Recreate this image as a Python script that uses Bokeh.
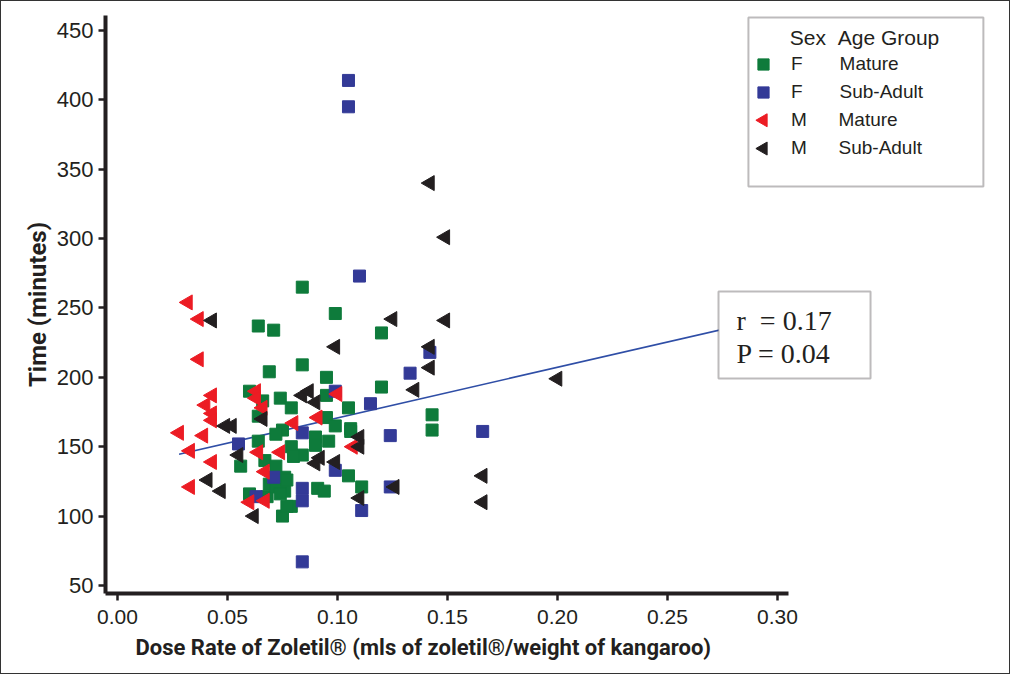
from bokeh.plotting import figure
from bokeh.models import (Legend, LegendItem, BoxAnnotation, Label, Range1d, Title,
                          SingleIntervalTicker, NumeralTickFormatter)
from bokeh.embed import file_html
from bokeh.resources import INLINE

# F / Mature
fm_dose = [0.084, 0.099, 0.064, 0.071, 0.120, 0.069, 0.084, 0.095, 0.120, 0.060,
           0.066, 0.074, 0.095, 0.079, 0.105, 0.064, 0.095, 0.106, 0.075, 0.072,
           0.064, 0.090, 0.096, 0.106, 0.079, 0.084, 0.090, 0.056, 0.067, 0.105,
           0.111, 0.091, 0.094, 0.076, 0.076, 0.075, 0.079, 0.060, 0.069, 0.068,
           0.072, 0.143, 0.143, 0.080, 0.099, 0.072, 0.077, 0.074, 0.077]
fm_time = [265, 246, 237, 234, 232, 204, 209, 200, 193, 190,
           183, 185, 187, 178, 178, 172, 171, 163, 162, 159,
           154, 157, 154, 161, 150, 144, 151, 136, 140, 129,
           121, 120, 118, 128, 118, 100, 107, 116, 123, 114,
           121, 173, 162, 143, 165, 136, 126, 116, 107]

# F / Sub-Adult
fs_dose = [0.105, 0.105, 0.110, 0.142, 0.133, 0.115, 0.099, 0.084, 0.055, 0.124,
           0.166, 0.099, 0.071, 0.063, 0.084, 0.084, 0.111, 0.124, 0.084]
fs_time = [414, 395, 273, 218, 203, 181, 190, 160, 152, 158,
           161, 133, 128, 114, 120, 111, 104, 121, 67]

# M / Mature
mm_dose = [0.032, 0.037, 0.037, 0.063, 0.063, 0.043, 0.040, 0.043, 0.066, 0.043,
           0.100, 0.091, 0.080, 0.028, 0.039, 0.033, 0.064, 0.074, 0.043, 0.067,
           0.033, 0.060, 0.067, 0.107]
mm_time = [254, 242, 213, 190, 185, 187, 180, 174, 178, 169,
           188, 171, 167, 160, 158, 147, 146, 146, 139, 132,
           121, 110, 111, 150]

# M / Sub-Adult
ms_dose = [0.142, 0.149, 0.043, 0.125, 0.149, 0.099, 0.142, 0.142, 0.135, 0.200,
           0.084, 0.087, 0.090, 0.066, 0.049, 0.052, 0.055, 0.110, 0.110, 0.092,
           0.099, 0.090, 0.110, 0.126, 0.166, 0.166, 0.041, 0.047, 0.062]
ms_time = [340, 301, 241, 242, 241, 222, 222, 207, 191, 199,
           187, 190, 182, 170, 165, 165, 144, 157, 150, 142,
           139, 138, 113, 121, 129, 110, 126, 118, 100]

# fitted line
fit_dose = [0.028, 0.30]
fit_time = [144.5, 243.7]

GREEN = "#0e7b3b"
BLUE = "#333a97"
RED = "#ec1c24"
BLACK = "#231f20"
NB = "\u00a0"

p = figure(width=1010, height=674, title=None,
           x_range=Range1d(-0.00545, 0.3982), y_range=Range1d(44.2, 460.8),
           output_backend="svg", toolbar_location=None,
           min_border_left=104, min_border_right=18, min_border_top=14, min_border_bottom=82)
p.grid.visible = False
p.outline_line_color = None
p.styles = {"border": "1.5px solid #333333"}

p.line(fit_dose, fit_time, line_color="#2f4ea6", line_width=1.6)
r_fm = p.scatter(fm_dose, fm_time, marker="square", size=12, color=GREEN)
r_fs = p.scatter(fs_dose, fs_time, marker="square", size=12, color=BLUE)
r_mm = p.scatter(mm_dose, mm_time, marker="triangle", angle=90, angle_units="deg",
                 size=15, color=RED)
r_ms = p.scatter(ms_dose, ms_time, marker="triangle", angle=90, angle_units="deg",
                 size=15, color=BLACK)

xa = p.xaxis[0]
ya = p.yaxis[0]
xa.bounds = (-0.00545, 0.305)
xa.ticker = SingleIntervalTicker(interval=0.05, num_minor_ticks=0)
xa.formatter = NumeralTickFormatter(format="0.00")
ya.ticker = SingleIntervalTicker(interval=50, num_minor_ticks=0)
ya.axis_label = "Time (minutes)"
for ax in (xa, ya):
    ax.axis_line_width = 4
    ax.axis_line_color = BLACK
    ax.major_tick_line_width = 2.5
    ax.major_tick_line_color = BLACK
    ax.major_tick_out = 7
    ax.major_tick_in = 0
    ax.minor_tick_line_color = None
    ax.major_label_text_font = "Liberation Sans"
    ax.major_label_text_color = BLACK
xa.major_label_text_font_size = "21px"
ya.major_label_text_font_size = "22px"
xa.major_label_standoff = 9
ya.major_label_standoff = 5
ya.axis_label_text_font = "Roboto"
ya.axis_label_text_font_style = "bold"
ya.axis_label_text_color = BLACK
ya.axis_label_text_font_size = "24px"
ya.axis_label_standoff = 2

# x axis title, placed under the bounded axis rather than centred on the whole frame
p.add_layout(Title(text="Dose Rate of Zoletil® (mls of zoletil®/weight of kangaroo)",
                   align="left", offset=30, standoff=12, text_font="Roboto",
                   text_font_style="bold", text_font_size="22px", text_color=BLACK), "below")

# stats box
p.add_layout(BoxAnnotation(left=0.2732, right=0.3423, top=261.9, bottom=199.2,
                           fill_color="white", fill_alpha=1,
                           line_color=BLACK, line_width=2))
for ty, txt in ((241.0, "r" + NB + NB + "= 0.17"), (217.2, "P = 0.04")):
    p.add_layout(Label(x=0.2814, y=ty, text=txt, text_font="Liberation Serif",
                       text_font_size="28px", text_baseline="middle", text_color=BLACK))

# legend frame
p.add_layout(BoxAnnotation(left=0.2868, right=0.3936, top=459.4, bottom=337.6,
                           fill_alpha=0, line_color=BLACK, line_width=2))

# legend keys for the left-pointing triangles (Bokeh draws legend markers unrotated)
key_x = [0.2936, 0.2936]
key_y = [385.3, 364.9]
key_color = [RED, BLACK]
p.scatter(key_x, key_y, marker="triangle", angle=90, angle_units="deg", size=13,
          color=key_color)
blank = p.scatter([], [], marker="triangle", alpha=0)

legend = Legend(
    items=[
        LegendItem(label="F" + NB * 7 + "Mature", renderers=[r_fm]),
        LegendItem(label="F" + NB * 7 + "Sub-Adult", renderers=[r_fs]),
        LegendItem(label="M" + NB * 6 + "Mature", renderers=[blank]),
        LegendItem(label="M" + NB * 6 + "Sub-Adult", renderers=[blank]),
    ],
    location=(644, 431), title=NB * 7 + "Sex" + NB * 2 + "Age Group",
    title_text_font="Liberation Sans", title_text_font_size="21px",
    title_text_font_style="normal", title_text_color=BLACK, title_standoff=0,
    label_text_font="Liberation Sans", label_text_font_size="19px", label_text_color=BLACK,
    glyph_width=28, glyph_height=28, label_height=28, spacing=0, padding=0, margin=0,
    label_standoff=14, border_line_alpha=0, background_fill_alpha=0)
p.add_layout(legend)

open("out.html", "w").write(file_html(p, INLINE))
